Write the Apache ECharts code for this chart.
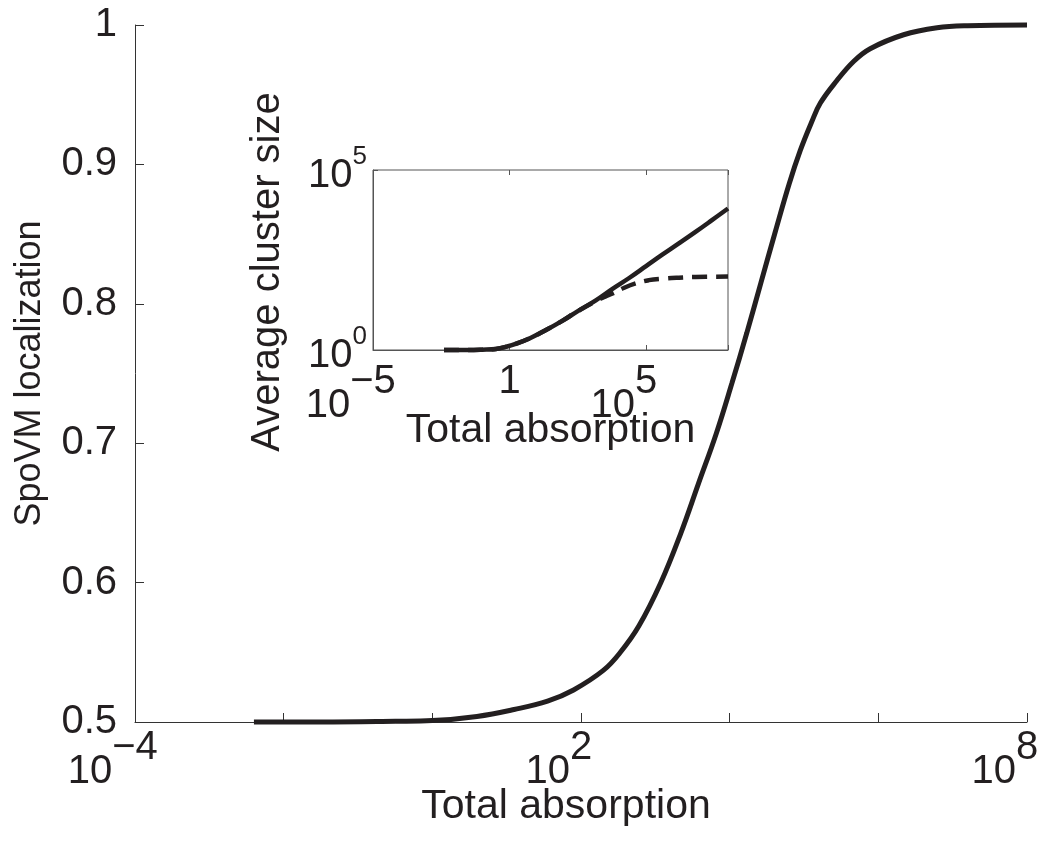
<!DOCTYPE html>
<html>
<head>
<meta charset="utf-8">
<script src="https://cdn.jsdelivr.net/npm/echarts@6/dist/echarts.min.js"></script>
<style>
  html, body { margin: 0; background: #fff; }
  #chart { width: 1040px; height: 850px; }
</style>
</head>
<body>
<div id="chart"></div>
<script>
// main plot: log10(total absorption) vs SpoVM localization
const mainExp = [-2.4, -1.5, -0.5, 0.0, 0.6, 1.1, 1.55, 1.9, 2.3, 2.53, 2.78, 3.07, 3.34, 3.58, 3.82, 4.03, 4.23, 4.42, 4.61, 4.80, 4.95, 5.10, 5.22, 5.44, 5.67, 5.89, 6.34, 6.79, 7.2, 8.0];
const mainY = [0.5, 0.5, 0.5005, 0.501, 0.504, 0.509, 0.515, 0.523, 0.537, 0.550, 0.569, 0.5995, 0.635, 0.671, 0.707, 0.743, 0.779, 0.815, 0.851, 0.886, 0.910, 0.930, 0.944, 0.960, 0.974, 0.983, 0.993, 0.998, 0.9995, 1.0];

// inset: log10(total absorption) vs log10(average cluster size)
const insetExp = [-2.4, -1.5, -1.0, -0.5, -0.12, 0.3, 0.73, 1.3, 1.93, 2.5, 3.16, 3.77, 4.38, 5.0, 5.58, 6.2, 6.81, 7.4, 8.0];
const insetSolidExp = [0, 0, 0.01, 0.03, 0.09, 0.19, 0.32, 0.54, 0.81, 1.08, 1.38, 1.70, 2.0, 2.33, 2.64, 2.96, 3.28, 3.6, 3.93];
const dashedExp = [-2.4, -1.5, -1.0, -0.5, -0.12, 0.3, 0.73, 1.3, 1.93, 2.5, 3.16, 3.5, 3.77, 4.2, 4.62, 5.1, 5.58, 6.2, 6.81, 8.0];
const dashedSizeExp = [0, 0, 0.01, 0.03, 0.09, 0.19, 0.32, 0.54, 0.81, 1.08, 1.36, 1.48, 1.57, 1.73, 1.85, 1.94, 1.98, 2.01, 2.03, 2.04];

// tick labels shown
const mainXLabels = [-4, 2, 8];
const insetXLabels = [-5, 0, 5];
const insetYLabels = [0, 5];

const ink = '#231f20';
const font = 'Liberation Sans, Arial, Helvetica, sans-serif';

const pow = (e) => Math.pow(10, e);
const expOf = (v) => Math.round(Math.log10(v));
const minus = (n) => (n < 0 ? '\u2212' + Math.abs(n) : String(n));

const chart = echarts.init(document.getElementById('chart'));

const supRich = {
  b: { fontSize: 40, fontFamily: font, color: ink, padding: [24, 0, 0, 0], verticalAlign: 'bottom' },
  e: { fontSize: 40, fontFamily: font, color: ink, verticalAlign: 'top' },
  s: { fontSize: 40, fontFamily: font, color: 'transparent' }
};

const option = {
  animation: false,
  backgroundColor: '#fff',
  grid: [
    { left: 135, top: 25, right: 13, bottom: 128, outerBoundsMode: 'none' },
    { left: 373, top: 170, width: 355, height: 180, show: true, borderColor: '#555', borderWidth: 1, backgroundColor: '#fff', outerBoundsMode: 'none' }
  ],
  xAxis: [
    {
      type: 'log', gridIndex: 0, logBase: 10, min: 1e-4, max: 1e8, interval: 2,
      axisLine: { show: true, onZero: false, lineStyle: { color: '#333', width: 1 } },
      axisTick: { inside: true, length: 9, lineStyle: { color: '#333' } },
      splitLine: { show: false },
      axisLabel: {
        margin: 6,
        formatter: (v) => {
          const n = expOf(v);
          return mainXLabels.includes(n) ? '{b|10}{e|' + minus(n) + '}{s|10}' : '';
        },
        rich: supRich
      },
      name: 'Total absorption', nameLocation: 'middle', nameGap: 64, nameMoveOverlap: false,
      nameTextStyle: { fontSize: 41, fontFamily: font, color: ink, padding: [0, 30, 0, 0] }
    },
    {
      type: 'log', gridIndex: 1, logBase: 10, min: 1e-5, max: 1e8, interval: 5,
      axisLine: { show: true, onZero: false, lineStyle: { color: '#555', width: 1 } },
      axisTick: { inside: true, length: 5, lineStyle: { color: '#555' } },
      splitLine: { show: false },
      axisLabel: {
        margin: 12,
        formatter: (v) => {
          const n = expOf(v);
          if (!insetXLabels.includes(n)) return '';
          if (n === 0) return '{e|1}';
          return '{b|10}{e|' + minus(n) + '}{s|10}';
        },
        rich: supRich
      },
      name: 'Total absorption', nameLocation: 'middle', nameGap: 60, nameMoveOverlap: false,
      nameTextStyle: { fontSize: 41, fontFamily: font, color: ink }
    },
    {
      type: 'log', gridIndex: 1, position: 'top', logBase: 10, min: 1e-5, max: 1e8, interval: 5,
      axisLine: { show: false },
      axisTick: { inside: true, length: 5, lineStyle: { color: '#555' } },
      axisLabel: { show: false },
      splitLine: { show: false }
    }
  ],
  yAxis: [
    {
      type: 'value', gridIndex: 0, min: 0.5, max: 1, interval: 0.1,
      axisLine: { show: true, onZero: false, lineStyle: { color: '#333', width: 1 } },
      axisTick: { show: true, inside: true, length: 9, lineStyle: { color: '#333' } },
      splitLine: { show: false },
      axisLabel: {
        margin: 18, fontSize: 40, fontFamily: font, color: ink,
        formatter: (v) => (v === 1 ? '1' : v.toFixed(1))
      },
      name: 'SpoVM localization', nameLocation: 'middle', nameGap: 87, nameMoveOverlap: false,
      nameTextStyle: { fontSize: 36, fontFamily: font, color: ink }
    },
    {
      type: 'log', gridIndex: 1, logBase: 10, min: 1, max: 1e5, interval: 5,
      axisLine: { show: true, onZero: false, lineStyle: { color: '#555', width: 1 } },
      axisTick: { show: true, inside: true, length: 5, lineStyle: { color: '#555' } },
      splitLine: { show: false },
      axisLabel: {
        margin: 6,
        formatter: (v) => {
          const n = expOf(v);
          return insetYLabels.includes(n) ? '{b|10}{e|' + n + '}' : '';
        },
        rich: {
          b: { fontSize: 40, fontFamily: font, color: ink, padding: [12, 0, 0, 0], verticalAlign: 'bottom' },
          e: { fontSize: 26, fontFamily: font, color: ink, verticalAlign: 'top' }
        }
      },
      name: 'Average cluster size', nameLocation: 'middle', nameGap: 85, nameMoveOverlap: false,
      nameTextStyle: { fontSize: 40, fontFamily: font, color: ink, padding: [0, 24, 0, 0] }
    }
  ],
  series: [
    {
      name: 'localization', type: 'line', xAxisIndex: 0, yAxisIndex: 0,
      data: mainExp.map((e, i) => [pow(e), mainY[i]]),
      smooth: 0.4, showSymbol: false, clip: false,
      lineStyle: { color: ink, width: 5 }
    },
    {
      name: 'cluster dashed', type: 'line', xAxisIndex: 1, yAxisIndex: 1,
      data: dashedExp.map((e, i) => [pow(e), pow(dashedSizeExp[i])]),
      smooth: 0.4, showSymbol: false, clip: false,
      lineStyle: { color: ink, width: 4.5, type: [15, 9] }
    },
    {
      name: 'cluster solid', type: 'line', xAxisIndex: 1, yAxisIndex: 1,
      data: insetExp.map((e, i) => [pow(e), pow(insetSolidExp[i])]),
      smooth: 0.4, showSymbol: false, clip: false,
      lineStyle: { color: ink, width: 4.5 }
    }
  ]
};

chart.setOption(option);
</script>
</body>
</html>
